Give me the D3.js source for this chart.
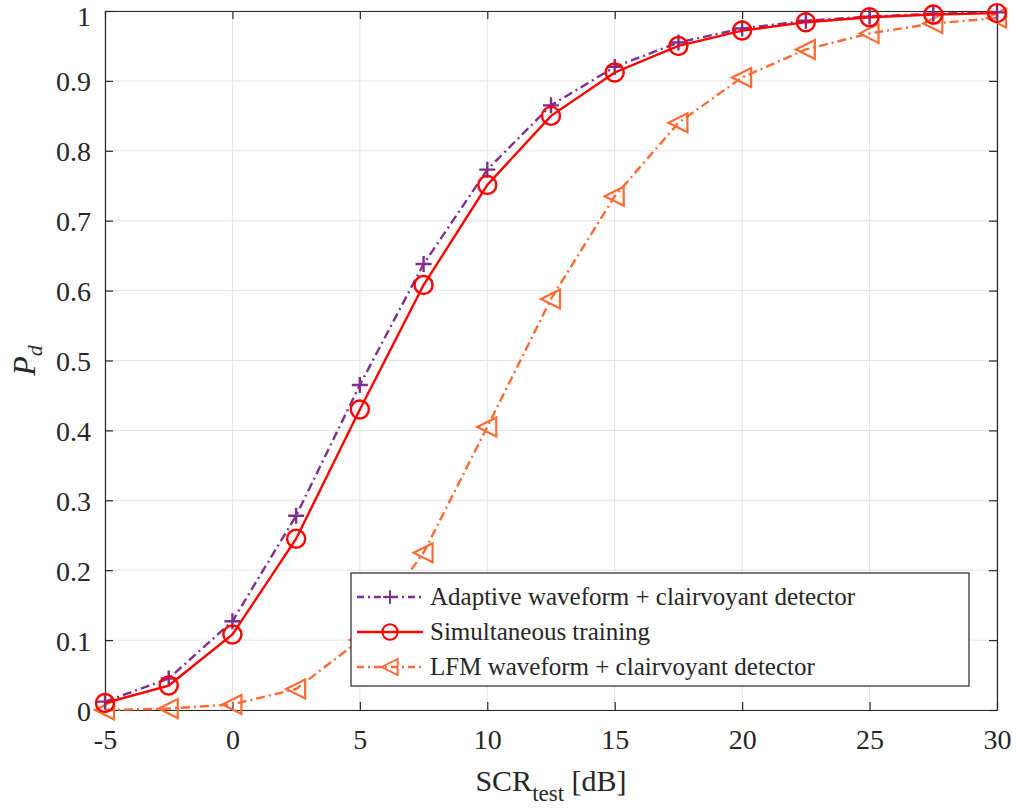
<!DOCTYPE html>
<html>
<head>
<meta charset="utf-8">
<script src="https://cdn.jsdelivr.net/npm/d3@7"></script>
<style>
  body { margin: 0; background: #fff; }
  text { font-family: "Liberation Serif", "Times New Roman", serif; fill: #262626; }
</style>
</head>
<body>
<svg id="chart" width="1020" height="810"></svg>
<script>
// ---- data ----
const scr = [-5, -2.5, 0, 2.5, 5, 7.5, 10, 12.5, 15, 17.5, 20, 22.5, 25, 27.5, 30];
const adaptive = [0.012, 0.045, 0.127, 0.278, 0.465, 0.638, 0.773, 0.865, 0.920, 0.955, 0.975, 0.986, 0.992, 0.996, 0.998];
const simultaneous = [0.010, 0.035, 0.108, 0.245, 0.430, 0.608, 0.751, 0.850, 0.912, 0.950, 0.972, 0.984, 0.991, 0.995, 0.997];
const lfm = [0.000, 0.002, 0.008, 0.030, 0.100, 0.225, 0.405, 0.588, 0.735, 0.840, 0.905, 0.945, 0.968, 0.982, 0.990];
const xTicks = [-5, 0, 5, 10, 15, 20, 25, 30];
const yTicks = [0, 0.1, 0.2, 0.3, 0.4, 0.5, 0.6, 0.7, 0.8, 0.9, 1];
const seriesNames = ["Adaptive waveform + clairvoyant detector", "Simultaneous training", "LFM waveform + clairvoyant detector"];

const series = [
  { name: seriesNames[0], values: adaptive, color: "#7E2F8E", dash: "9,4,2,4", marker: "plus" },
  { name: seriesNames[1], values: simultaneous, color: "#FF0000", dash: null, marker: "circle" },
  { name: seriesNames[2], values: lfm, color: "#FF6A33", dash: "9,4,2,4", marker: "triangle" }
];

const margin = { top: 11, right: 23, bottom: 100, left: 105 };
const width = 1020 - margin.left - margin.right, height = 810 - margin.top - margin.bottom;
const serif = '"Liberation Serif", "Times New Roman", serif';

const svg = d3.select("#chart");
const g = svg.append("g").attr("transform", `translate(${margin.left},${margin.top})`);

const x = d3.scaleLinear().domain([-5, 30]).range([0, width]);
const y = d3.scaleLinear().domain([0, 1]).range([height, 0]);

// grid
g.append("g").selectAll("line").data(xTicks).enter().append("line")
  .attr("x1", d => x(d)).attr("x2", d => x(d)).attr("y1", 0).attr("y2", height)
  .attr("stroke", "#e3e3e3").attr("stroke-width", 1);
g.append("g").selectAll("line").data(yTicks).enter().append("line")
  .attr("y1", d => y(d)).attr("y2", d => y(d)).attr("x1", 0).attr("x2", width)
  .attr("stroke", "#e3e3e3").attr("stroke-width", 1);

// axes (ticks inside, box)
const tickLen = 8;
const styleAxis = sel => {
  sel.attr("font-family", serif).attr("font-size", 28);
  sel.select(".domain").attr("stroke", "#262626").attr("stroke-width", 1.2);
  sel.selectAll(".tick line").attr("stroke", "#262626").attr("stroke-width", 1.2);
  sel.selectAll("text").attr("fill", "#262626")
    .style("font-family", serif).style("font-size", "28px");
};
g.append("g").attr("transform", `translate(0,${height})`)
  .call(d3.axisBottom(x).tickValues(xTicks).tickSize(-tickLen).tickSizeOuter(0).tickPadding(19).tickFormat(d => String(d)))
  .call(styleAxis);
g.append("g")
  .call(d3.axisTop(x).tickValues(xTicks).tickSize(-tickLen).tickSizeOuter(0).tickFormat(""))
  .call(styleAxis);
const yAxis = g.append("g")
  .call(d3.axisLeft(y).tickValues(yTicks).tickSize(-tickLen).tickSizeOuter(0).tickPadding(14).tickFormat(d => String(d)))
  .call(styleAxis);
yAxis.selectAll(".tick text").attr("dy", "0.36em");
yAxis.selectAll(".tick").filter(d => d === 1).select("text").attr("dy", "0.5em");
g.append("g").attr("transform", `translate(${width},0)`)
  .call(d3.axisRight(y).tickValues(yTicks).tickSize(-tickLen).tickSizeOuter(0).tickFormat(""))
  .call(styleAxis);

// markers
function drawMarker(sel, type, color) {
  if (type === "circle") {
    sel.append("circle").attr("r", 9).attr("fill", "none").attr("stroke", color).attr("stroke-width", 2.4);
  } else if (type === "plus") {
    sel.append("path").attr("d", "M-8,0H8M0,-8V8").attr("stroke", color).attr("stroke-width", 2.4).attr("fill", "none");
  } else {
    sel.append("path").attr("d", "M-10,0L9,-9.5L9,9.5Z").attr("stroke", color).attr("stroke-width", 2.2).attr("fill", "none");
  }
}

const line = d3.line().x(d => x(d[0])).y(d => y(d[1]));
// draw order: LFM, adaptive, simultaneous
[series[2], series[0], series[1]].forEach(s => {
  const pts = scr.map((v, i) => [v, s.values[i]]);
  g.append("path").datum(pts).attr("fill", "none").attr("stroke", s.color)
    .attr("stroke-width", 2.4).attr("stroke-dasharray", s.dash).attr("d", line);
  g.append("g").selectAll("g").data(pts).enter().append("g")
    .attr("transform", d => `translate(${x(d[0])},${y(d[1])})`)
    .each(function () { drawMarker(d3.select(this), s.marker, s.color); });
});

// legend
const lg = g.append("g").attr("transform", "translate(246,562)");
lg.append("rect").attr("width", 618).attr("height", 113).attr("fill", "#fff")
  .attr("stroke", "#262626").attr("stroke-width", 1.2);
series.forEach((s, i) => {
  const row = lg.append("g").attr("transform", `translate(0,${24 + i * 35})`);
  row.append("line").attr("x1", 6).attr("x2", 72).attr("stroke", s.color).attr("stroke-width", 2.4)
    .attr("stroke-dasharray", s.dash ? "7,4,2,4" : null);
  const m = row.append("g").attr("transform", "translate(39,0) scale(0.85)");
  drawMarker(m, s.marker, s.color);
  row.append("text").attr("x", 79).attr("dy", "0.33em")
    .style("font-family", serif).style("font-size", "25px").text(s.name);
});

// axis labels
const xl = svg.append("text").attr("x", margin.left + width / 2).attr("y", 791)
  .attr("text-anchor", "middle").style("font-family", serif).style("font-size", "30px");
xl.append("tspan").text("SCR");
xl.append("tspan").attr("dy", 10).style("font-size", "23px").text("test");
xl.append("tspan").attr("dy", -10).text(" [dB]");

const yl = svg.append("text").attr("transform", `translate(35,${margin.top + height / 2}) rotate(-90)`)
  .attr("text-anchor", "middle").style("font-family", serif)
  .style("font-size", "32px").style("font-style", "italic");
yl.append("tspan").text("P");
yl.append("tspan").attr("dy", 7).style("font-size", "22px").text("d");
</script>
</body>
</html>
